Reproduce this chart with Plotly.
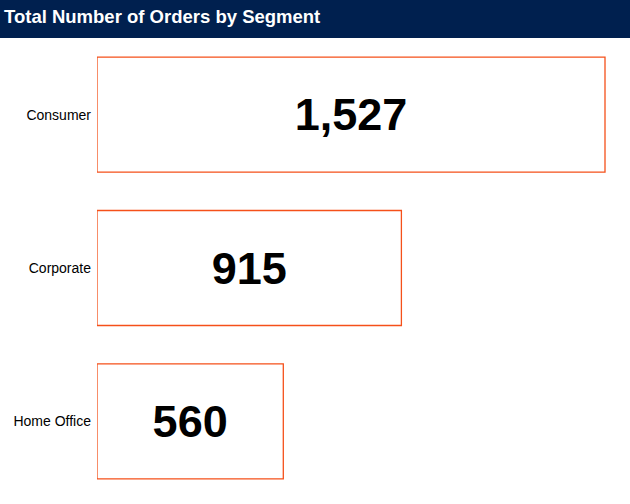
import plotly.graph_objects as go

segments = ["Consumer", "Corporate", "Home Office"]
orders = [1527, 915, 560]
labels = [f"{v:,}" for v in orders]

W, H = 630, 504
ml, mr, mt, mb = 97, 0, 38, 6
pw, ph = W - ml - mr, H - mt - mb

fig = go.Figure(go.Bar(
    x=orders, y=segments, orientation="h",
    marker=dict(color="white", line=dict(color="#F5501A", width=1.3)),
    width=0.75,
    text=labels, textposition="inside", insidetextanchor="middle",
    textfont=dict(family="Liberation Sans, Arial, sans-serif", size=45, color="black", weight="bold"),
    textangle=0, hoverinfo="skip",
))

fig.update_layout(
    width=W, height=H,
    margin=dict(l=ml, r=mr, t=mt, b=mb),
    paper_bgcolor="white", plot_bgcolor="white",
    showlegend=False,
    uniformtext=dict(minsize=8, mode=False),
    xaxis=dict(range=[0, 1527 * pw / 508], visible=False, fixedrange=True),
    yaxis=dict(autorange="reversed", showgrid=False, zeroline=False, showline=False,
               ticks="", ticklabelstandoff=5, fixedrange=True,
               tickfont=dict(family="Liberation Sans, Arial, sans-serif", size=14, color="black")),
    shapes=[dict(type="rect", xref="paper", yref="paper",
                 x0=-ml / pw, x1=1 + mr / pw, y0=1, y1=1 + mt / ph,
                 fillcolor="#00204F", line=dict(width=0), layer="above")],
    annotations=[dict(text="<b>Total Number of Orders by Segment</b>", xref="paper", yref="paper",
                      x=-ml / pw + 2 / pw, y=1 + (mt / 2 + 3) / ph, xanchor="left", yanchor="middle",
                      showarrow=False,
                      font=dict(family="Liberation Sans, Arial, sans-serif", size=18.5, color="white"))],
)

fig.write_html("out.html", config={"displayModeBar": False},
               post_script="document.body.style.margin='0';")
